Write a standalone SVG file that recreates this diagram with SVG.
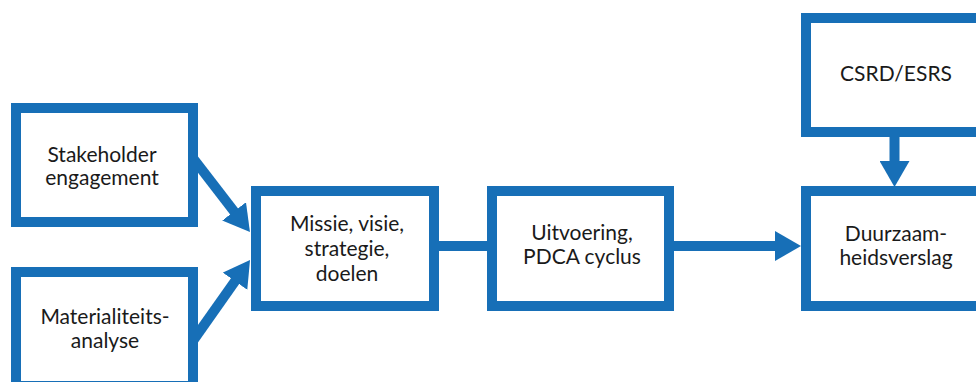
<svg xmlns="http://www.w3.org/2000/svg" width="976" height="382" viewBox="0 0 976 382">
  <style>
    .box { fill: #ffffff; stroke: #176fb7; stroke-width: 10; }
    .conn { fill: none; stroke: #176fb7; stroke-width: 10; }
    .lbl { font-family: Lato, "Open Sans", "Liberation Sans", sans-serif; font-size: 21px; fill: #1a1a1a; text-anchor: middle; }
  </style>
  <defs>
    <marker id="arrow" markerUnits="userSpaceOnUse" markerWidth="26" markerHeight="30" viewBox="0 0 26 30" refX="1" refY="15" orient="auto">
      <path d="M0,0 L26,15 L0,30 z" fill="#176fb7"/>
    </marker>
  </defs>
  <rect width="976" height="382" fill="#ffffff"/>
  <g id="connectors">
    <path class="conn" d="M190,154.2 L234.7,212.2" marker-end="url(#arrow)"/>
    <path class="conn" d="M190,345 L235.6,280.4" marker-end="url(#arrow)"/>
    <path class="conn" d="M434,246 H492"/>
    <path class="conn" d="M669,246 H776" marker-end="url(#arrow)"/>
    <path class="conn" d="M894.5,132 V162" marker-end="url(#arrow)"/>
  </g>
  <g id="stakeholder">
    <rect class="box" x="16" y="108" width="177" height="114"/>
    <text class="lbl" x="102" y="162">Stakeholder</text>
    <text class="lbl" x="102" y="185">engagement</text>
  </g>
  <g id="materialiteit">
    <rect class="box" x="16" y="272" width="177" height="114"/>
    <text class="lbl" x="105" y="324">Materialiteits-</text>
    <text class="lbl" x="105" y="348">analyse</text>
  </g>
  <g id="missie">
    <rect class="box" x="256" y="191" width="178" height="115"/>
    <text class="lbl" x="347" y="231">Missie, visie,</text>
    <text class="lbl" x="347" y="256">strategie,</text>
    <text class="lbl" x="347" y="281">doelen</text>
  </g>
  <g id="uitvoering">
    <rect class="box" x="492" y="191" width="177" height="115"/>
    <text class="lbl" x="582" y="240">Uitvoering,</text>
    <text class="lbl" x="582" y="264">PDCA cyclus</text>
  </g>
  <g id="csrd">
    <rect class="box" x="806" y="18" width="177" height="114"/>
    <text class="lbl" x="896" y="81">CSRD/ESRS</text>
  </g>
  <g id="duurzaam">
    <rect class="box" x="806" y="191" width="177" height="115"/>
    <text class="lbl" x="896" y="241">Duurzaam-</text>
    <text class="lbl" x="896" y="265">heidsverslag</text>
  </g>
</svg>
